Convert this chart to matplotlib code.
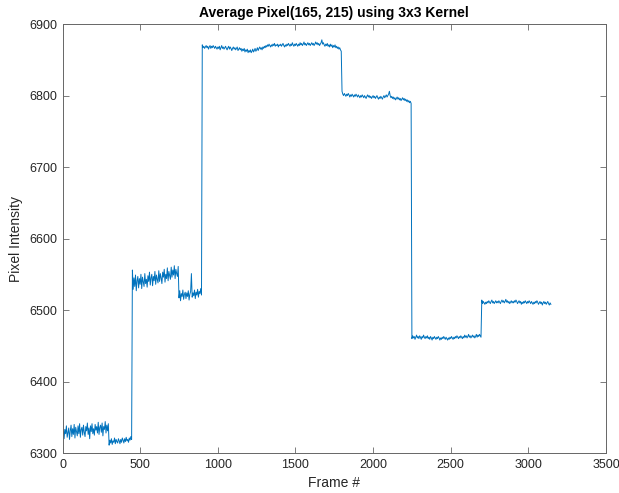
import numpy as np
import matplotlib
matplotlib.use("Agg")
import matplotlib.pyplot as plt

plt.rcParams['font.family'] = ['Liberation Sans', 'DejaVu Sans']

# frame step between the values
step = 5

seg_a = [6324, 6337, 6320, 6333, 6327, 6338, 6322, 6329, 6335, 6319,
         6331, 6339, 6323, 6334, 6326, 6340, 6321, 6336, 6330, 6324,
         6338, 6327, 6341, 6322, 6333, 6336, 6325, 6339, 6329, 6323,
         6337, 6331, 6342, 6326, 6335, 6320, 6338, 6330, 6341, 6327,
         6334, 6325, 6340, 6332, 6337, 6328, 6343, 6326, 6336, 6339,
         6329, 6342, 6324, 6337, 6333, 6344, 6328, 6339, 6331, 6341]
seg_b = [6311, 6318, 6314, 6320, 6312, 6317, 6315, 6321, 6313, 6319,
         6316, 6314, 6320, 6317, 6313, 6319, 6315, 6321, 6318, 6314,
         6320, 6316, 6322, 6317, 6319, 6315, 6321, 6318, 6323, 6319]
seg_c = [6556, 6529, 6545, 6533, 6549, 6527, 6541, 6547, 6531, 6544,
         6536, 6550, 6530, 6546, 6539, 6533, 6551, 6537, 6543, 6532,
         6548, 6540, 6553, 6535, 6545, 6550, 6534, 6547, 6541, 6554,
         6536, 6549, 6543, 6538, 6555, 6540, 6551, 6545, 6537, 6553,
         6546, 6557, 6539, 6550, 6544, 6559, 6541, 6554, 6548, 6543,
         6560, 6546, 6556, 6549, 6562, 6544, 6557, 6551, 6547, 6561]
seg_d = [6517, 6527, 6513, 6523, 6519, 6528, 6515, 6522, 6525, 6516,
         6524, 6519, 6527, 6514, 6522, 6526, 6551, 6518, 6524, 6520,
         6528, 6516, 6525, 6521, 6529, 6518, 6526, 6523, 6530, 6521]
seg_e = [6871, 6867, 6869, 6866, 6868, 6870, 6867, 6869, 6865, 6868,
         6870, 6866, 6869, 6867, 6870, 6868, 6866, 6869, 6867, 6865,
         6868, 6866, 6869, 6864, 6867, 6870, 6866, 6868, 6865, 6867,
         6869, 6866, 6864, 6867, 6869, 6865, 6868, 6866, 6863, 6866,
         6868, 6865, 6867, 6864, 6866, 6868, 6863, 6865, 6867, 6864,
         6866, 6862, 6865, 6863, 6866, 6861, 6864, 6862, 6865, 6860,
         6863, 6861, 6864, 6860, 6862, 6865, 6861, 6863, 6866, 6862,
         6864, 6867, 6863, 6866, 6868, 6865, 6867, 6864, 6868, 6866,
         6869, 6867, 6870, 6868, 6871, 6869, 6872, 6870, 6868, 6871,
         6869, 6872, 6870, 6873, 6869, 6871, 6870, 6872, 6868, 6871,
         6870, 6872, 6869, 6871, 6873, 6870, 6868, 6871, 6869, 6872,
         6870, 6873, 6871, 6869, 6872, 6870, 6874, 6871, 6869, 6872,
         6870, 6873, 6871, 6869, 6872, 6870, 6874, 6871, 6873, 6870,
         6872, 6875, 6871, 6873, 6870, 6872, 6874, 6871, 6873, 6870,
         6872, 6874, 6871, 6873, 6870, 6872, 6875, 6872, 6874, 6871,
         6873, 6870, 6872, 6874, 6878, 6872, 6874, 6871, 6869, 6872,
         6870, 6873, 6869, 6871, 6868, 6872, 6869, 6871, 6867, 6870,
         6868, 6871, 6867, 6869, 6866, 6868, 6865, 6867, 6864, 6862]
seg_f = [6806, 6802, 6800, 6803, 6801, 6799, 6802, 6800, 6803, 6801,
         6798, 6801, 6799, 6802, 6800, 6798, 6801, 6799, 6802, 6800,
         6798, 6801, 6799, 6797, 6800, 6798, 6801, 6799, 6797, 6800,
         6798, 6796, 6799, 6801, 6798, 6800, 6797, 6799, 6796, 6798,
         6800, 6797, 6799, 6796, 6798, 6800, 6797, 6795, 6798, 6796,
         6799, 6797, 6795, 6798, 6800, 6797, 6799, 6801, 6798, 6800,
         6802, 6806, 6800, 6797, 6799, 6796, 6798, 6795, 6797, 6794,
         6796, 6798, 6795, 6797, 6794, 6796, 6793, 6795, 6797, 6794,
         6796, 6793, 6795, 6792, 6794, 6791, 6793, 6790, 6792, 6789]
seg_g = [6460, 6464, 6461, 6463, 6459, 6462, 6465, 6461, 6463, 6460,
         6464, 6462, 6459, 6463, 6461, 6465, 6462, 6460, 6463, 6461,
         6464, 6460, 6462, 6459, 6463, 6461, 6458, 6462, 6460, 6463,
         6461, 6459, 6462, 6460, 6463, 6461, 6458, 6461, 6459, 6462,
         6460, 6463, 6461, 6459, 6462, 6460, 6458, 6461, 6459, 6462,
         6460, 6463, 6461, 6459, 6462, 6460, 6463, 6461, 6464, 6462,
         6460, 6463, 6461, 6464, 6462, 6460, 6463, 6461, 6465, 6462,
         6464, 6461, 6463, 6466, 6462, 6464, 6461, 6463, 6465, 6462,
         6464, 6461, 6463, 6466, 6462, 6465, 6463, 6466, 6464, 6462]
seg_h = [6514, 6509, 6512, 6510, 6508, 6511, 6509, 6512, 6510, 6513,
         6511, 6509, 6512, 6514, 6510, 6512, 6509, 6511, 6513, 6510,
         6512, 6510, 6513, 6511, 6509, 6512, 6514, 6511, 6513, 6510,
         6512, 6515, 6511, 6513, 6510, 6512, 6509, 6511, 6513, 6510,
         6512, 6510, 6513, 6511, 6514, 6512, 6509, 6511, 6513, 6510,
         6512, 6508, 6511, 6509, 6512, 6510, 6513, 6511, 6509, 6512,
         6510, 6513, 6511, 6509, 6512, 6510, 6508, 6511, 6509, 6512,
         6510, 6513, 6511, 6508, 6510, 6512, 6509, 6511, 6507, 6510,
         6512, 6509, 6511, 6508, 6510, 6512, 6509, 6507, 6510, 6508]

vals = np.concatenate([seg_a, seg_b, seg_c, seg_d, seg_e, seg_f, seg_g, seg_h])
frames = np.arange(len(vals)) * step

fig = plt.figure(figsize=(6.19, 4.93), dpi=100)
ax = fig.add_axes([0.1010, 0.0811, 0.878, 0.870])
ax.plot(frames, vals, color="#0072BD", lw=0.7)

ax.set_xlim(0, 3500)
ax.set_ylim(6300, 6900)
ax.set_xticks(np.arange(0, 3501, 500))
ax.set_yticks(np.arange(6300, 6901, 100))
ax.tick_params(direction="in", top=True, right=True, length=4, width=0.6,
               labelsize=9, colors="#262626", pad=4)
ax.tick_params(color="#666666")
for s in ax.spines.values():
    s.set_linewidth(0.7)
    s.set_color("#666666")

ax.set_title("Average Pixel(165, 215) using 3x3 Kernel", fontsize=10,
             fontweight="bold", pad=5)
ax.set_xlabel("Frame #", fontsize=10, color="#262626")
ax.set_ylabel("Pixel Intensity", fontsize=10, color="#262626")

fig.savefig("out.png", dpi=100)
